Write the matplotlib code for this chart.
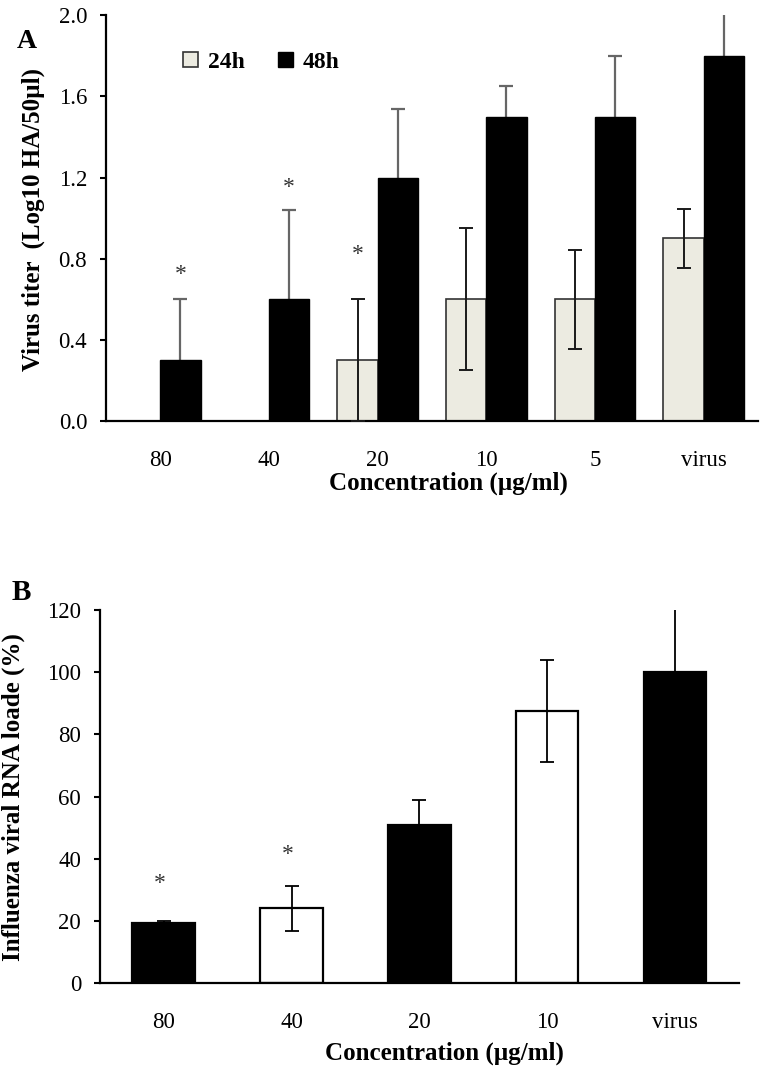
import numpy as np
import matplotlib.pyplot as plt
from matplotlib.ticker import FormatStrFormatter

plt.rcParams["font.family"] = ["Liberation Serif", "DejaVu Serif"]

# ---------------- datos panel A (titulo viral) ----------------
conc_a = ["80", "40", "20", "10", "5", "virus"]
titer_24h = [0.0, 0.0, 0.3, 0.6, 0.6, 0.9]
err_24h = [0.0, 0.0, 0.3, 0.35, 0.245, 0.145]
titer_48h = [0.3, 0.6, 1.2, 1.5, 1.5, 1.8]
err_48h = [0.3, 0.44, 0.34, 0.15, 0.3, 0.25]
# asteriscos: (indice de categoria, serie, altura)
stars_a = [(0, "48h", 0.72), (1, "48h", 1.15), (2, "24h", 0.82)]

# ---------------- datos panel B (RNA viral) ----------------
conc_b = ["80", "40", "20", "10", "virus"]
rna_load = [19.2, 24.0, 50.8, 87.6, 100.0]
rna_err = [0.8, 7.3, 8.0, 16.5, 22.0]
rna_fill = ["black", "white", "black", "white", "black"]
stars_b = [(0, 32.0), (1, 41.5)]

fs_tick = 16.5
fs_lab = 18

fig = plt.figure(figsize=(7.68, 10.68), dpi=100)
axA = fig.add_axes([0.138, 0.6058, 0.849, 0.380])
axB = fig.add_axes([0.130, 0.0796, 0.832, 0.349])

# ---------------- panel A ----------------
w = 0.37
x = np.arange(len(conc_a))
axA.bar(x - w / 2, titer_24h, w, color="#ECEBE1", edgecolor="#333333", lw=1.2,
        label="24h", zorder=2)
axA.bar(x + w / 2, titer_48h, w, color="black", edgecolor="black", lw=1.0,
        label="48h", zorder=2)
has_err = np.array(err_24h) > 0
axA.errorbar((x - w / 2)[has_err], np.array(titer_24h)[has_err],
             yerr=np.array(err_24h)[has_err], fmt="none", ecolor="#1a1a1a",
             elinewidth=1.4, capsize=5, capthick=1.4, zorder=3)
# la parte inferior queda tapada por la barra negra
axA.errorbar(x + w / 2, titer_48h, yerr=err_48h, fmt="none", ecolor="#666666",
             elinewidth=1.6, capsize=5, capthick=1.6, zorder=1)
for i, serie, y in stars_a:
    xs = i - w / 2 if serie == "24h" else i + w / 2
    axA.text(xs, y, "*", ha="center", va="center", fontsize=17, color="#333333")

axA.set_xlim(-0.5, len(conc_a) - 0.5)
axA.set_ylim(0, 2.0)
axA.set_yticks(np.arange(0, 2.01, 0.4))
axA.yaxis.set_major_formatter(FormatStrFormatter("%.1f"))
axA.set_xticks(x)
axA.set_xticklabels(conc_a)
axA.set_ylabel("Virus titer  (Log10 HA/50µl)", fontsize=fs_lab, fontweight="bold")
axA.yaxis.set_label_coords(-0.094, 0.4975)
axA.set_xlabel("Concentration (µg/ml)", fontsize=fs_lab, fontweight="bold")
axA.xaxis.set_label_coords(0.525, -0.125)
axA.legend(loc="center left", bbox_to_anchor=(0.118, 0.884), ncol=2,
           frameon=False, prop={"weight": "bold", "size": 17},
           handlelength=0.65, handleheight=0.65, handletextpad=0.4,
           columnspacing=1.4, borderpad=0, borderaxespad=0)
fig.text(27 / 768, 1 - 41 / 1068, "A", fontsize=20, fontweight="bold",
         ha="center", va="center")

# ---------------- panel B ----------------
xb = np.arange(len(conc_b))
wb = 0.49
axB.bar(xb, rna_load, wb, color=rna_fill, edgecolor="black", lw=1.6, zorder=2)
axB.errorbar(xb, rna_load, yerr=rna_err, fmt="none", ecolor="black",
             elinewidth=1.3, capsize=5, capthick=1.3, zorder=3)
for i, y in stars_b:
    axB.text(i - 0.03, y, "*", ha="center", va="center", fontsize=17, color="#333333")

axB.set_xlim(-0.5, len(conc_b) - 0.5)
axB.set_ylim(0, 120)
axB.set_yticks(np.arange(0, 121, 20))
axB.set_xticks(xb)
axB.set_xticklabels(conc_b)
axB.set_ylabel("Influenza viral RNA loade (%)", fontsize=fs_lab, fontweight="bold")
axB.yaxis.set_label_coords(-0.117, 0.499)
axB.set_xlabel("Concentration (µg/ml)", fontsize=fs_lab, fontweight="bold")
axB.xaxis.set_label_coords(0.54, -0.158)
fig.text(21 / 768, 1 - 593 / 1068, "B", fontsize=21, fontweight="bold",
         ha="center", va="center")

for ax in (axA, axB):
    for s in ("top", "right"):
        ax.spines[s].set_visible(False)
    ax.spines["left"].set_linewidth(1.6)
    ax.spines["bottom"].set_linewidth(1.6)
    ax.tick_params(axis="y", direction="out", length=4.5, width=1.5,
                   pad=9, labelsize=fs_tick)
    ax.tick_params(axis="x", length=0, pad=21, labelsize=fs_tick)

plt.savefig("out.png", dpi=100)
